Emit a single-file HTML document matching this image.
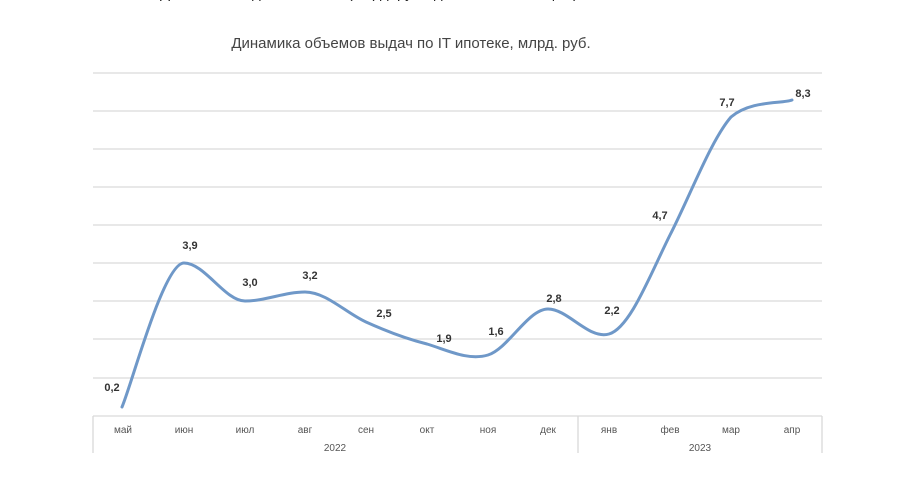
<!DOCTYPE html>
<html><head><meta charset="utf-8"><style>
html,body{margin:0;padding:0;background:#fff;width:915px;height:492px;overflow:hidden}
svg{display:block}
text{font-family:"Liberation Sans",sans-serif}
</style></head><body>
<svg width="915" height="492" viewBox="0 0 915 492">
<text x="160" y="-2" font-size="15" fill="#222">Динамика выдачи ипотеки (млрд. руб., данные по месяцам)</text>
<text x="411" y="48" font-size="15" fill="#444" text-anchor="middle">Динамика объемов выдач по IT ипотеке, млрд. руб.</text>
<g stroke="#d9d9d9" stroke-width="1.3">
<line x1="93" x2="822" y1="73" y2="73"/><line x1="93" x2="822" y1="111" y2="111"/>
<line x1="93" x2="822" y1="149" y2="149"/><line x1="93" x2="822" y1="187" y2="187"/>
<line x1="93" x2="822" y1="225" y2="225"/><line x1="93" x2="822" y1="263" y2="263"/>
<line x1="93" x2="822" y1="301" y2="301"/><line x1="93" x2="822" y1="339" y2="339"/>
<line x1="93" x2="822" y1="378" y2="378"/><line x1="93" x2="822" y1="416" y2="416"/>
<line x1="93" x2="93" y1="416" y2="453"/><line x1="578" x2="578" y1="416" y2="453"/><line x1="822" x2="822" y1="416" y2="453"/>
</g>
<path d="M122,407 C132.3,383 163.7,263 184,263 C204.7,263 224.8,301 245,301 C265,301 285,292 305,292 C326,292 346,313 366,322 C386,331 407,339 427,344 C447,350 468,361 488,355 C508,349 528,309 548,309 C568,309 589,340 609,334 C630,328 650,275 670,235 C690,196 711,140 731,117 C751,100 782,104 792,100" fill="none" stroke="#6f98c8" stroke-width="3" stroke-linecap="round"/>
<g font-size="11" font-weight="bold" fill="#333" text-anchor="middle">
<text x="112" y="391">0,2</text><text x="190" y="249">3,9</text><text x="250" y="286">3,0</text>
<text x="310" y="279">3,2</text><text x="384" y="317">2,5</text><text x="444" y="342">1,9</text>
<text x="496" y="335">1,6</text><text x="554" y="302">2,8</text><text x="612" y="314">2,2</text>
<text x="660" y="219">4,7</text><text x="727" y="106">7,7</text><text x="803" y="97">8,3</text>
</g>
<g font-size="10" fill="#555" text-anchor="middle">
<text x="123" y="433">май</text><text x="184" y="433">июн</text><text x="245" y="433">июл</text>
<text x="305" y="433">авг</text><text x="366" y="433">сен</text><text x="427" y="433">окт</text>
<text x="488" y="433">ноя</text><text x="548" y="433">дек</text><text x="609" y="433">янв</text>
<text x="670" y="433">фев</text><text x="731" y="433">мар</text><text x="792" y="433">апр</text>
<text x="335" y="451">2022</text><text x="700" y="451">2023</text>
</g>
</svg>
</body></html>
